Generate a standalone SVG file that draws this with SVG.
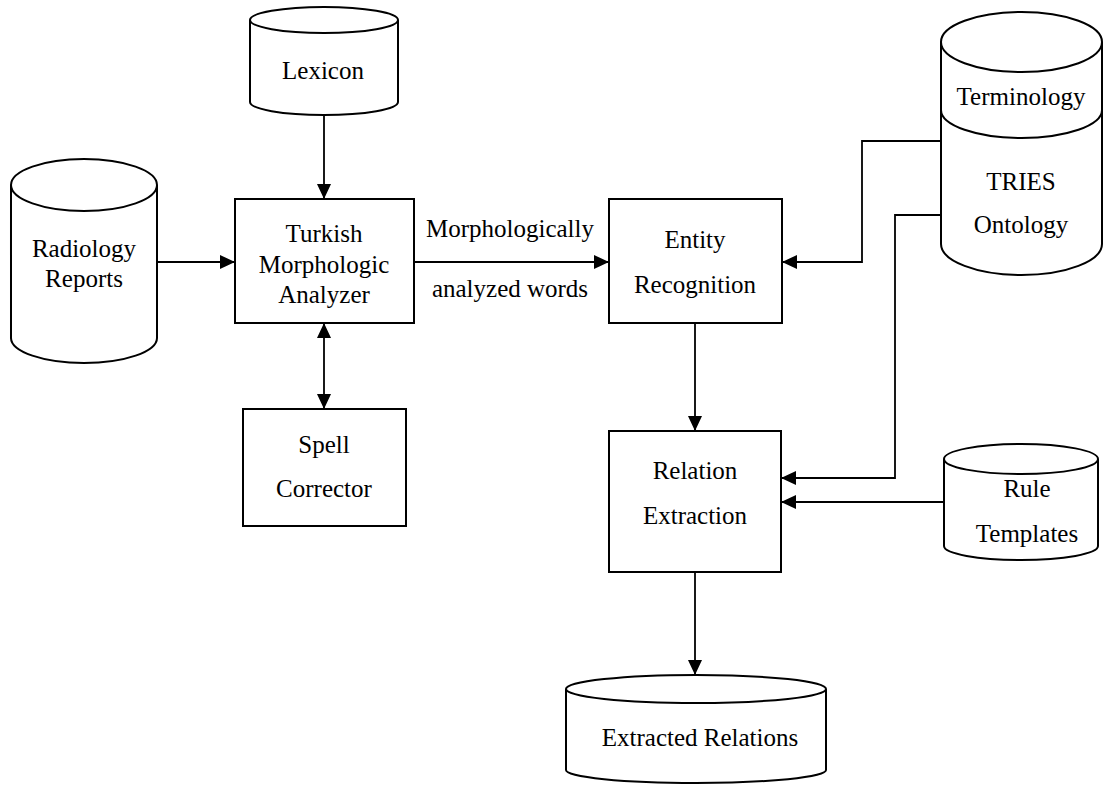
<svg xmlns="http://www.w3.org/2000/svg" width="1105" height="785" viewBox="0 0 1105 785">
<style>
.s{fill:none;stroke:#000;stroke-width:2}
.b{fill:#fff;stroke:#000;stroke-width:2}
.c{fill:none;stroke:#000;stroke-width:1.8}
text{font-family:"Liberation Serif","Times New Roman",serif;font-size:25px;fill:#000;text-anchor:middle}
</style>
<defs>
<marker id="ah" markerWidth="15" markerHeight="14" refX="15" refY="7" orient="auto-start-reverse" markerUnits="userSpaceOnUse">
<path d="M0,0 L15,7 L0,14 z" fill="#000"/>
</marker>
</defs>
<rect width="1105" height="785" fill="#fff"/>
<g id="connectors">
<path class="c" d="M157,262 L235,262" marker-end="url(#ah)"/>
<path class="c" d="M324,115 L324,199" marker-end="url(#ah)"/>
<path class="c" d="M324,323 L324,409" marker-start="url(#ah)" marker-end="url(#ah)"/>
<path class="c" d="M414,262 L609,262" marker-end="url(#ah)"/>
<path class="c" d="M941,141 L862,141 L862,262 L782,262" marker-end="url(#ah)"/>
<path class="c" d="M941,215 L895,215 L895,478 L781,478" marker-end="url(#ah)"/>
<path class="c" d="M944,502 L781,502" marker-end="url(#ah)"/>
<path class="c" d="M695,323 L695,431" marker-end="url(#ah)"/>
<path class="c" d="M695,572 L695,675" marker-end="url(#ah)"/>
</g>
<g id="lexicon">
<path class="b" d="M250,20 A74,13 0 0 1 398,20 L398,102 A74,13 0 0 1 250,102 Z"/>
<path class="s" d="M250,20 A74,13 0 0 0 398,20"/>
<text x="323" y="79">Lexicon</text>
</g>
<g id="radiology">
<path class="b" d="M11,185 A73,26 0 0 1 157,185 L157,338 A73,25 0 0 1 11,338 Z"/>
<path class="s" d="M11,185 A73,26 0 0 0 157,185"/>
<text x="84" y="257">Radiology</text>
<text x="84" y="287">Reports</text>
</g>
<g id="turkish">
<rect class="b" x="235" y="199" width="179" height="124"/>
<text x="324" y="242">Turkish</text>
<text x="324" y="273">Morphologic</text>
<text x="324" y="303">Analyzer</text>
</g>
<g id="spell">
<rect class="b" x="243" y="409" width="163" height="117"/>
<text x="324" y="453">Spell</text>
<text x="324" y="497">Corrector</text>
</g>
<g id="edge-label">
<text x="510" y="237">Morphologically</text>
<text x="510" y="297">analyzed words</text>
</g>
<g id="entity">
<rect class="b" x="609" y="199" width="173" height="124"/>
<text x="695" y="248">Entity</text>
<text x="695" y="293">Recognition</text>
</g>
<g id="tries">
<path class="b" d="M941,42 A80.5,30 0 0 1 1102,42 L1102,244 A80.5,31 0 0 1 941,244 Z"/>
<path class="s" d="M941,42 A80.5,30 0 0 0 1102,42"/>
<path class="s" d="M941,110 A80.5,28 0 0 0 1102,110"/>
<text x="1021" y="105">Terminology</text>
<text x="1021" y="190">TRIES</text>
<text x="1021" y="233">Ontology</text>
</g>
<g id="relation">
<rect class="b" x="609" y="431" width="172" height="141"/>
<text x="695" y="479">Relation</text>
<text x="695" y="524">Extraction</text>
</g>
<g id="rule">
<path class="b" d="M944,459 A77,15 0 0 1 1098,459 L1098,546 A77,14 0 0 1 944,546 Z"/>
<path class="s" d="M944,459 A77,15 0 0 0 1098,459"/>
<text x="1027" y="497">Rule</text>
<text x="1027" y="542">Templates</text>
</g>
<g id="extracted">
<path class="b" d="M566,689 A130,14 0 0 1 826,689 L826,770 A130,13 0 0 1 566,770 Z"/>
<path class="s" d="M566,689 A130,14 0 0 0 826,689"/>
<text x="700" y="746">Extracted Relations</text>
</g>
</svg>
